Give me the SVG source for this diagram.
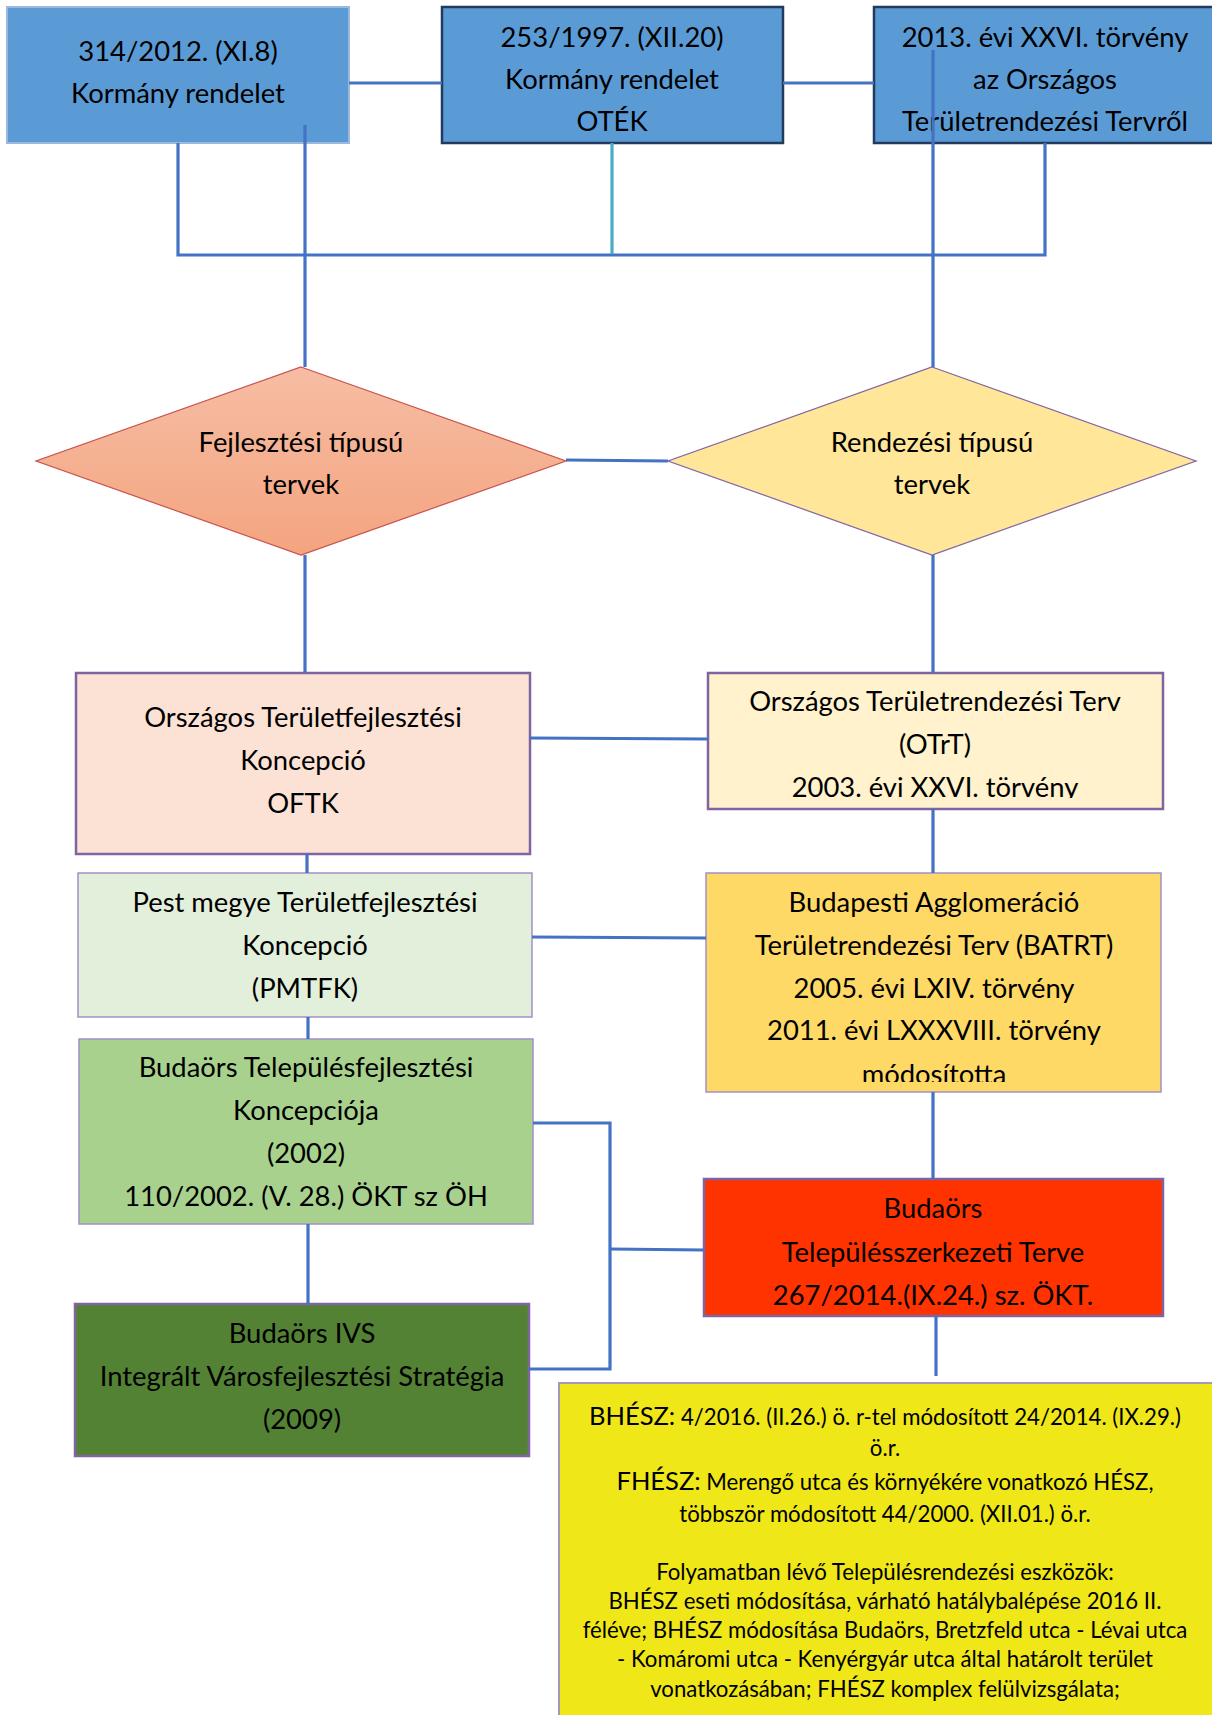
<svg xmlns="http://www.w3.org/2000/svg" width="1212" height="1715" viewBox="0 0 1212 1715">
<style>
text{font-family:Lato,"Open Sans",sans-serif;fill:#000;text-anchor:middle}
.t{font-size:27.4px}
.s{font-size:22.2px}
.b{font-size:25.5px}
.law{fill:#5B9BD5}
.conn{fill:none;stroke:#4472C4;stroke-width:3.2}
.teal{fill:none;stroke:#4BACC6;stroke-width:3.2}
.pbox{stroke:#8064A2;stroke-width:2.5}
.lbox{stroke:#A391C6;stroke-width:1.5}
</style>
<defs>
<linearGradient id="gFej" x1="0" y1="0" x2="0" y2="1">
<stop offset="0" stop-color="#F6BDA4"/>
<stop offset="1" stop-color="#F4A47F"/>
</linearGradient>
<clipPath id="clipOtrt"><rect x="708" y="673" width="455" height="125"/></clipPath>
<clipPath id="clipBatrt"><rect x="706" y="873" width="455" height="209"/></clipPath>
</defs>

<g id="n-314">
<rect class="law" x="7" y="7" width="342" height="136" stroke="#9DB8DC" stroke-width="2"/>
<text class="t" x="178" y="61">314/2012. (XI.8)</text>
<text class="t" x="178" y="103">Kormány rendelet</text>
</g>
<g id="n-253">
<rect class="law" x="442" y="7" width="341" height="136" stroke="#233A5E" stroke-width="2.5"/>
<text class="t" x="612" y="47">253/1997. (XII.20)</text>
<text class="t" x="612" y="89">Kormány rendelet</text>
<text class="t" x="612" y="131">OTÉK</text>
</g>
<g id="n-2013">
<rect class="law" x="874" y="7" width="345" height="136" stroke="#233A5E" stroke-width="2.5"/>
<text class="t" x="1045" y="47">2013. évi XXVI. törvény</text>
<text class="t" x="1045" y="89">az Országos</text>
<text class="t" x="1045" y="131">Területrendezési Tervről</text>
</g>

<g id="n-fejlesztesi">
<polygon points="301,367 566,461 301,555 36,461" fill="url(#gFej)" stroke="#C9514D" stroke-width="1.2"/>
<text class="t" x="301" y="452">Fejlesztési típusú</text>
<text class="t" x="301" y="494">tervek</text>
</g>
<g id="n-rendezesi">
<polygon points="932,367 1196,461 932,555 668,461" fill="#FFE699" stroke="#8064A2" stroke-width="1.2"/>
<text class="t" x="932" y="452">Rendezési típusú</text>
<text class="t" x="932" y="494">tervek</text>
</g>

<g id="n-oftk">
<rect class="pbox" x="76" y="673" width="454" height="181" fill="#FBE2D5"/>
<text class="t" x="303" y="727">Országos Területfejlesztési</text>
<text class="t" x="303" y="770">Koncepció</text>
<text class="t" x="303" y="813">OFTK</text>
</g>
<g id="n-pmtfk">
<rect class="lbox" x="78" y="873" width="454" height="144" fill="#E2EFDA"/>
<text class="t" x="305" y="912">Pest megye Területfejlesztési</text>
<text class="t" x="305" y="955">Koncepció</text>
<text class="t" x="305" y="998">(PMTFK)</text>
</g>
<g id="n-btk">
<rect class="lbox" x="79" y="1039" width="454" height="185" fill="#A9D18E"/>
<text class="t" x="306" y="1077">Budaörs Településfejlesztési</text>
<text class="t" x="306" y="1120">Koncepciója</text>
<text class="t" x="306" y="1163">(2002)</text>
<text class="t" x="306" y="1206">110/2002. (V. 28.) ÖKT sz ÖH</text>
</g>
<g id="n-ivs">
<rect class="pbox" x="75" y="1304" width="454" height="152" fill="#548235"/>
<text class="t" x="302" y="1343">Budaörs IVS</text>
<text class="t" x="302" y="1386">Integrált Városfejlesztési Stratégia</text>
<text class="t" x="302" y="1429">(2009)</text>
</g>

<g id="n-otrt">
<rect class="pbox" x="708" y="673" width="455" height="136" fill="#FFF2CC"/>
<g clip-path="url(#clipOtrt)">
<text class="t" x="935" y="711">Országos Területrendezési Terv</text>
<text class="t" x="935" y="754">(OTrT)</text>
<text class="t" x="935" y="797">2003. évi XXVI. törvény</text>
</g>
</g>
<g id="n-batrt">
<rect class="lbox" x="706" y="873" width="455" height="219" fill="#FFD966"/>
<g clip-path="url(#clipBatrt)">
<text class="t" x="934" y="912">Budapesti Agglomeráció</text>
<text class="t" x="934" y="955">Területrendezési Terv (BATRT)</text>
<text class="t" x="934" y="998">2005. évi LXIV. törvény</text>
<text class="t" x="934" y="1040">2011. évi LXXXVIII. törvény</text>
<text class="t" x="934" y="1084">módosította</text>
</g>
</g>
<g id="n-tszt">
<rect class="pbox" x="704" y="1179" width="459" height="137" fill="#FF3300"/>
<text class="t" x="933" y="1218">Budaörs</text>
<text class="t" x="933" y="1262">Településszerkezeti Terve</text>
<text class="t" x="933" y="1305">267/2014.(IX.24.) sz. ÖKT.</text>
</g>
<g id="n-hesz">
<rect x="559" y="1383" width="660" height="340" fill="#EFE718" stroke="#A598B8" stroke-width="2"/>
<text x="885" y="1425"><tspan class="b">BHÉSZ:</tspan><tspan class="s"> 4/2016. (II.26.) ö. r-tel módosított 24/2014. (IX.29.)</tspan></text>
<text class="s" x="885" y="1456">ö.r.</text>
<text x="885" y="1490"><tspan class="b">FHÉSZ:</tspan><tspan class="s"> Merengő utca és környékére vonatkozó HÉSZ,</tspan></text>
<text class="s" x="885" y="1522">többször módosított 44/2000. (XII.01.) ö.r.</text>
<text class="s" x="885" y="1580">Folyamatban lévő Településrendezési eszközök:</text>
<text class="s" x="885" y="1609">BHÉSZ eseti módosítása, várható hatálybalépése 2016 II.</text>
<text class="s" x="885" y="1638">féléve; BHÉSZ módosítása Budaörs, Bretzfeld utca - Lévai utca</text>
<text class="s" x="885" y="1667">- Komáromi utca - Kenyérgyár utca által határolt terület</text>
<text class="s" x="885" y="1697">vonatkozásában; FHÉSZ komplex felülvizsgálata;</text>
</g>

<g id="connectors">
<line class="conn" x1="349" y1="83" x2="442" y2="83"/>
<line class="conn" x1="783" y1="83" x2="874" y2="83"/>
<polyline class="conn" points="178,143 178,255 1045,255 1045,143"/>
<line class="teal" x1="612" y1="143" x2="612" y2="254"/>
<line class="conn" x1="305" y1="125" x2="305" y2="367"/>
<line class="conn" x1="933" y1="50" x2="933" y2="367"/>
<line class="conn" x1="566" y1="460" x2="668" y2="461"/>
<line class="conn" x1="305" y1="555" x2="305" y2="673"/>
<line class="conn" x1="933" y1="555" x2="933" y2="673"/>
<line class="conn" x1="530" y1="738" x2="708" y2="739"/>
<line class="conn" x1="307" y1="854" x2="307" y2="873"/>
<line class="conn" x1="933" y1="809" x2="933" y2="873"/>
<line class="conn" x1="532" y1="937" x2="706" y2="938"/>
<line class="conn" x1="308" y1="1017" x2="308" y2="1039"/>
<line class="conn" x1="308" y1="1224" x2="308" y2="1304"/>
<line class="conn" x1="933" y1="1092" x2="933" y2="1179"/>
<polyline class="conn" points="533,1123 610,1123 610,1369 529,1369"/>
<line class="conn" x1="610" y1="1249" x2="704" y2="1250"/>
<line class="conn" x1="936" y1="1316" x2="936" y2="1376"/>
</g>
</svg>
